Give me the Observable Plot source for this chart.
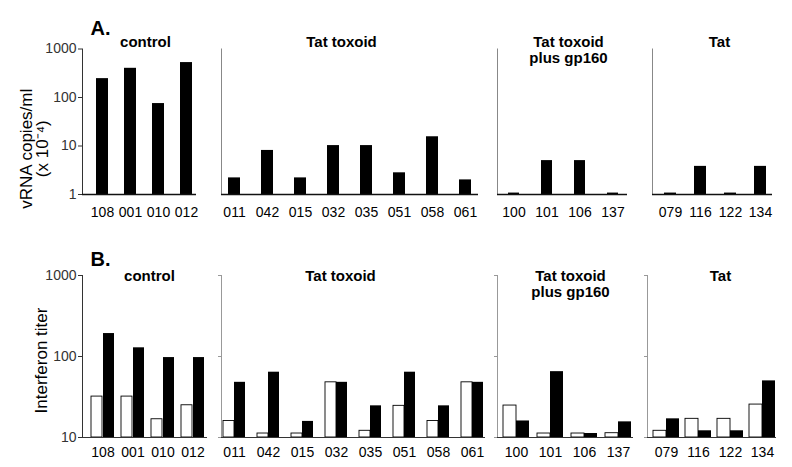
<!DOCTYPE html>
<html><head><meta charset="utf-8">
<script src="https://cdn.jsdelivr.net/npm/d3@7"></script>
<script src="https://cdn.jsdelivr.net/npm/@observablehq/plot@0.6"></script>
<style>
html,body{margin:0;padding:0;background:#fff;}
#chart{position:relative;width:792px;height:467px;overflow:hidden;}
#chart svg{position:absolute;}
</style></head><body><div id="chart"></div>
<script>
// ---------- data ----------
const groupNames = ["control", "Tat toxoid", "Tat toxoid\nplus gp160", "Tat"];
const idsControl = ["108", "001", "010", "012"];
const idsToxoid  = ["011", "042", "015", "032", "035", "051", "058", "061"];
const idsGp160   = ["100", "101", "106", "137"];
const idsTat     = ["079", "116", "122", "134"];

// Panel A: vRNA copies/ml (x 10^-4)
const vrnaControl = [245, 400, 75, 525];
const vrnaToxoid  = [2.2, 8.1, 2.2, 10.2, 10.2, 2.8, 15.5, 2.0];
const vrnaGp160   = [1.07, 5.0, 5.0, 1.07];
const vrnaTat     = [1.07, 3.8, 1.07, 3.8];

// Panel B: interferon titer (open bars / filled bars)
const ifnOpenControl   = [32, 32, 16.8, 25];
const ifnFilledControl = [192, 128, 97, 97];
const ifnOpenToxoid    = [16, 11.2, 11.2, 48, 12.1, 24.6, 16, 48];
const ifnFilledToxoid  = [48, 64, 15.8, 48, 24.6, 64, 24.6, 48];
const ifnOpenGp160     = [24.8, 11.2, 11.2, 11.3];
const ifnFilledGp160   = [16, 65, 11.2, 15.6];
const ifnOpenTat       = [12.1, 17, 17, 25.5];
const ifnFilledTat     = [17, 12.1, 12.1, 50];

const yTicksA = [1, 10, 100, 1000];
const yTicksB = [10, 100, 1000];
const panelLetters = ["A.", "B."];
const yTitleA = "vRNA copies/ml\n(x 10\u207B\u2074)";
const yTitleB = "Interferon titer";

// ---------- layout (positions / sizes / styles) ----------
const FONT = '"Liberation Sans", Arial, Helvetica, sans-serif';
const rows = [
  {top: 0, height: 232, yTop: 48.5, yBottom: 194, domain: [1, 1000], ticks: yTicksA, labelPad: 13, titleDy: -13,
   letterDy: -28.5, otherTick: 0, base: {stroke: "#111", strokeWidth: 1.5}, axisColor: ["#333", "#888"],
   groups: [
     {frame: [82, 196], c0: 101, c1: 187.5, bw: 12, titleX: 145},
     {frame: [221, 478], c0: 233.5, c1: 465.5, bw: 12, titleX: 341},
     {frame: [497, 627], c0: 513.5, c1: 613.5, bw: 11.5, titleX: 568},
     {frame: [652, 772], c0: 670, c1: 760, bw: 12, titleX: 719}
   ]},
  {top: 232, height: 235, yTop: 275, yBottom: 437, domain: [10, 1000], ticks: yTicksB, labelPad: 10, titleDy: -6,
   letterDy: -24, otherTick: 3, base: {stroke: "#333", strokeWidth: 1}, axisColor: ["#333", "#999"],
   groups: [
     {frame: [82, 207], c0: 101.5, c1: 194, bw: 24, titleX: 149},
     {frame: [221, 485], c0: 234, c1: 472, bw: 22, titleX: 340},
     {frame: [497, 633], c0: 515, c1: 619, bw: 26, titleX: 570},
     {frame: [647, 776], c0: 665, c1: 762, bw: 26, titleX: 720}
   ]}
];

const ids = [idsControl, idsToxoid, idsGp160, idsTat];
const vrna = [vrnaControl, vrnaToxoid, vrnaGp160, vrnaTat];
const ifnOpen = [ifnOpenControl, ifnOpenToxoid, ifnOpenGp160, ifnOpenTat];
const ifnFilled = [ifnFilledControl, ifnFilledToxoid, ifnFilledGp160, ifnFilledTat];

const chart = document.getElementById("chart");

rows.forEach((row, ri) => {
  row.groups.forEach((g, gi) => {
    const first = gi === 0;
    const [l, r] = g.frame;
    const mL = first ? l : 12, mR = 8;
    const svgLeft = l - mL;
    const width = (r - l) + mL + mR;
    const n = ids[gi].length;
    const step = (g.c1 - g.c0) / (n - 1);
    const data = ids[gi].map((id, i) => ri === 0
      ? {id, v: vrna[gi][i]}
      : {id, open: ifnOpen[gi][i], filled: ifnFilled[gi][i]});
    const yMin = row.domain[0];
    const marks = [];
    if (ri === 0) {
      marks.push(Plot.barY(data, {x: "id", y1: yMin, y2: "v", fill: "black"}));
    } else {
      marks.push(Plot.barY(data, {x: "id", y1: yMin, y2: "open", fill: "white", stroke: "black", strokeWidth: 0.9, insetRight: g.bw / 2}));
      marks.push(Plot.barY(data, {x: "id", y1: yMin, y2: "filled", fill: "black", insetLeft: g.bw / 2}));
    }
    marks.push(Plot.ruleY([yMin], {stroke: row.base.stroke, strokeWidth: row.base.strokeWidth}));
    marks.push(Plot.axisX({tickSize: 0, tickPadding: row.labelPad, fontSize: 14, label: null, fill: "black"}));
    marks.push(Plot.text([groupNames[gi]], {
      text: d => d, frameAnchor: "top", lineAnchor: "top", textAnchor: "middle",
      dx: g.titleX - (l + r) / 2, dy: row.titleDy,
      fontSize: 15, fontWeight: "bold", lineHeight: 1.06, fill: "black"
    }));
    if (first) {
      marks.push(Plot.text([panelLetters[ri]], {
        text: d => d, frameAnchor: "top-left", textAnchor: "start", lineAnchor: "top",
        dx: 8, dy: row.letterDy, fontSize: 20, fontWeight: "bold", fill: "black"
      }));
      if (ri === 0) {
        marks.push(Plot.text([yTitleA], {
          text: d => d, frameAnchor: "left", textAnchor: "middle", rotate: -90, dx: -48, dy: 27,
          fontSize: 17, lineHeight: 0.95, fill: "black"
        }));
      } else {
        marks.push(Plot.text([yTitleB], {
          text: d => d, frameAnchor: "left", textAnchor: "middle", rotate: -90, dx: -41, dy: 4,
          fontSize: 17, fill: "black"
        }));
      }
    }
    const svg = Plot.plot({
      width, height: row.height,
      marginLeft: mL, marginRight: mR,
      marginTop: row.yTop - row.top, marginBottom: row.top + row.height - row.yBottom,
      x: {domain: ids[gi], range: [g.c0 - g.bw / 2 - svgLeft, g.c1 + g.bw / 2 - svgLeft],
          paddingInner: 1 - g.bw / step, paddingOuter: 0},
      y: {type: "log", domain: row.domain, ticks: row.ticks, tickFormat: first ? "d" : () => "",
          tickSize: first ? 4 : row.otherTick, tickPadding: 2, line: true, label: null,
          fontSize: 14},
      style: {background: "transparent", overflow: "visible", fontFamily: FONT, fontSize: "14px",
              color: first ? row.axisColor[0] : row.axisColor[1]},
      marks
    });
    svg.style.left = svgLeft + "px";
    svg.style.top = row.top + "px";
    chart.appendChild(svg);
  });
});
</script>
</body></html>
